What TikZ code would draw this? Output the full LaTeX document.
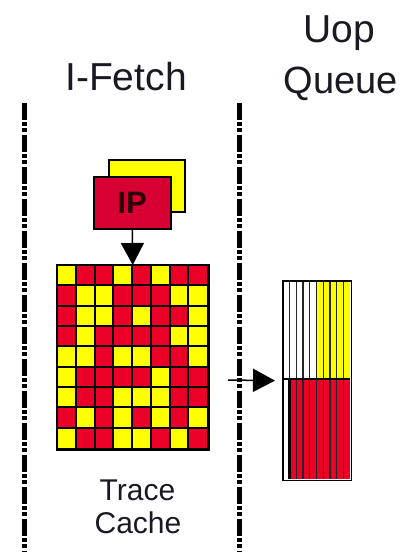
\documentclass[tikz,border=0pt]{standalone}
\usepackage{fontspec}
\setmainfont{Liberation Sans}
\usetikzlibrary{arrows.meta}

\definecolor{cY}{RGB}{255,255,0}
\definecolor{cR}{RGB}{235,0,40}
\definecolor{ipred}{RGB}{215,0,50}
\definecolor{iptext}{RGB}{45,0,12}
\definecolor{ink}{RGB}{25,25,35}

\tikzset{
  title/.style={anchor=base, inner sep=0pt, text=ink},
  stagebar/.style={line width=5pt, dash pattern=on 17pt off 2pt on 4pt off 2pt on 4pt off 3pt},
  flow/.style={line width=1.5pt, -{Triangle[length=22pt,width=23pt]}},
  box/.style={draw=black, line width=1.5pt, inner sep=0pt, anchor=north west},
}

\begin{document}
\begin{tikzpicture}[x=1pt,y=-1pt]
\useasboundingbox (0,0) rectangle (406,552);

% stage titles
\node[title, font=\fontsize{39}{44}\selectfont] (ifetch) at (126,90) {I-Fetch};
\node[title, font=\fontsize{39}{44}\selectfont] (uop) at (339,42) {Uop};
\node[title, font=\fontsize{38}{44}\selectfont] (queue) at (341,93) {Queue};

% pipeline stage boundaries
\draw[stagebar] (24,103) -- (24,552);
\draw[stagebar] (239,103) -- (239,552);

% instruction pointer (stacked boxes)
\node[box, fill=cY, minimum width=76pt, minimum height=52pt] (ipback) at (108,159) {};
\node[box, fill=ipred, minimum width=77pt, minimum height=52pt,
      font=\fontsize{31}{34}\selectfont\bfseries, text=iptext] (ip) at (93,176) {IP};

% trace cache array
\node[box, draw=none, minimum width=150pt, minimum height=183pt] (tc) at (57,265) {};
\foreach \row [count=\r] in {
  {Y,R,R,Y,R,Y,R,R},
  {R,Y,Y,R,R,R,Y,Y},
  {R,Y,Y,R,Y,R,R,Y},
  {R,Y,R,R,R,R,Y,Y},
  {Y,Y,R,Y,Y,R,R,Y},
  {Y,R,R,R,R,Y,R,R},
  {Y,R,R,Y,Y,Y,R,R},
  {R,Y,R,Y,R,Y,R,Y},
  {Y,R,R,Y,Y,R,Y,R}} {
  \foreach \c [count=\k] in \row {
    \fill[c\c] ({57+(\k-1)*18.75},{265+(\r-1)*20.333}) rectangle +(18.75,20.333);
  }
}
\foreach \k in {1,...,7} {
  \draw[line width=2pt] ({57+\k*18.75},265) -- ({57+\k*18.75},448);
}
\foreach \r in {1,...,8} {
  \draw[line width=2pt] (57,{265+\r*20.333}) -- (207,{265+\r*20.333});
}
\draw[line width=2.5pt] (tc.north west) rectangle (tc.south east);

\node[title, font=\fontsize{30}{34}\selectfont] (trace) at (137.5,500) {Trace};
\node[title, font=\fontsize{30}{34}\selectfont] (cache) at (138,533) {Cache};

% uop queue
\node[box, draw=none, minimum width=67pt, minimum height=198pt] (uq) at (283,281) {};
\foreach \k in {1,...,10} {
  \pgfmathsetmacro{\xa}{283+(\k-1)*6.7}
  \ifnum\k<6
    \fill[white] (\xa,281) rectangle +(6.7,98);
  \else
    \fill[cY] (\xa,281) rectangle +(6.7,98);
  \fi
  \ifnum\k=1
    \fill[white] (\xa,379) rectangle +(6.7,100);
  \else
    \fill[cR] (\xa,379) rectangle +(6.7,100);
  \fi
}
\foreach \k in {1,...,9} {
  \draw[line width=1.3pt, black!85] ({283+\k*6.7},281) -- ({283+\k*6.7},479);
}
\draw[line width=2.5pt] ({283+6.7},379) -- ({283+6.7},479);
\draw[line width=1.5pt] (283,379) -- (350,379);
\draw[line width=1.5pt] (uq.north west) rectangle (uq.south east);

% data flow
\draw[flow] (ip.south) -- (tc.north);
\coordinate (tcout) at (228,380);
\draw[flow, shorten >=8pt] (tcout) -- (uq.west);
\end{tikzpicture}
\end{document}
